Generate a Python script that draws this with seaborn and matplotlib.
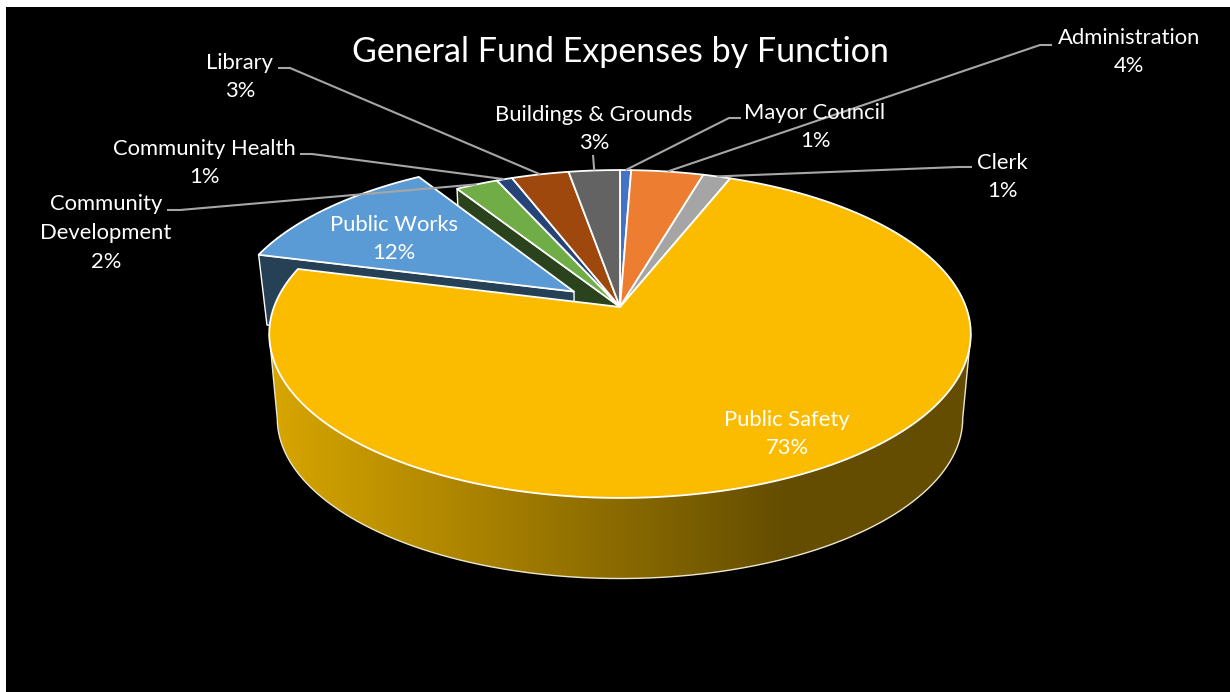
import numpy as np
import matplotlib
matplotlib.use("Agg")
import matplotlib.pyplot as plt
from matplotlib.patches import Polygon
import seaborn as sns

# Budget shares, clockwise from twelve o'clock
categories = ["Mayor Council", "Administration", "Clerk", "Public Safety", "Public Works",
              "Community\nDevelopment", "Community Health", "Library", "Buildings & Grounds"]
shares = [0.6, 3.9, 1.49, 73.0, 12.0, 2.3, 0.85, 3.1, 2.76]
slice_colors = ["#4472C4", "#ED7D31", "#A5A5A5", "#FBBC00", "#5B9BD5",
                "#70AD47", "#264478", "#9E480E", "#636363"]
title_text = "General Fund Expenses by Function"

# Label centres, leader elbows (label end, elbow) in pixel-scaled axes units
label_xy = [(815, 127), (1129, 52), (1002, 177), (787, 434), (394, 239),
            (106, 233), (204, 163), (240, 77), (594, 129)]
leader_start = [(741, 118), (1052, 45), (972, 167), None, None,
                (167, 210), (300, 154), (278, 68), (593, 155)]
leader_elbow = [(729, 118), (1040, 45), (958, 167), None, None,
                (180, 210), (312, 154), (290, 68), None]

# Projection of the tilted disc
CX, CY = 620.0, 307.0
RAD_X, RAD_Y = 346.0, 159.5
PERSP = 0.1646
FLOOR_SCALE, FLOOR_DROP = 0.977, 85.0
BACK_DROP = 69.0
EXPLODE = 0.167
EXPLODED = "Public Works"


def project(u, v, drop=None):
    u, v = np.asarray(u, float), np.asarray(v, float)
    w = 1 + PERSP * v
    x, y = RAD_X * u / w, -RAD_Y * v / w
    if drop is not None:
        x, y = x * FLOOR_SCALE, y * FLOOR_SCALE + drop
    return np.column_stack([CX + x, CY + y])


def arc(a0, a1, shift=(0.0, 0.0), drop=None, n=200):
    t = np.linspace(a0, a1, n)
    return project(shift[0] + np.sin(t), shift[1] + np.cos(t), drop)


sns.set_theme(style="dark")
plt.rcParams["font.family"] = ["Lato", "DejaVu Sans"]

fig = plt.figure(figsize=(12.3, 6.92), dpi=100, facecolor="white")
ax = fig.add_axes([6 / 1230, 0, 1224 / 1230, 685 / 692], facecolor="black")
ax.set_axis_off()
ax.add_patch(plt.Rectangle((6, 7), 1224, 685, color="black", zorder=0))

fractions = np.array(shares) / np.sum(shares)
edges = np.concatenate([[0], np.cumsum(fractions)]) * 2 * np.pi
palette = sns.color_palette(slice_colors)
index = {c: i for i, c in enumerate(categories)}
mids = (edges[:-1] + edges[1:]) / 2

ex = index[EXPLODED]
shift = (EXPLODE * np.sin(mids[ex]), EXPLODE * np.cos(mids[ex]))

# Cut face of the neighbouring slice, exposed by the pulled-out wedge
nb = ex + 1
face = np.vstack([[[CX, CY]], arc(edges[nb], edges[nb], n=1),
                  arc(edges[nb], edges[nb], drop=FLOOR_DROP, n=1), project([0], [0], FLOOR_DROP)])
ax.fill(*face.T, fc="#2A431C", ec="white", lw=1.0, zorder=2)

# Cut face of the pulled-out wedge
a0 = edges[ex]
face = np.vstack([project([shift[0]], [shift[1]]), arc(a0, a0, shift, n=1),
                  arc(a0, a0, shift, BACK_DROP, n=1), project([shift[0]], [shift[1]], BACK_DROP)])
ax.fill(*face.T, fc="#264055", ec="white", lw=1.0, zorder=3)

# Outer wall of the large slice, shaded left to right between its silhouette tangents
tangent = np.arccos(-PERSP)
wall_top = arc(tangent, 2 * np.pi - tangent, n=500)
wall_bot = arc(2 * np.pi - tangent, tangent, drop=FLOOR_DROP, n=500)
wall_shape = Polygon(np.vstack([wall_top, wall_bot]), closed=True, transform=ax.transData, fc="none", ec="none")
ax.add_patch(wall_shape)
wall_cmap = sns.blend_palette(["#D8A600", "#644D00"], as_cmap=True)
ramp = np.clip(np.linspace(0, 1, 512) / 0.74, 0, 1)
shade = ax.imshow(ramp[None, :], cmap=wall_cmap, aspect="auto", vmin=0, vmax=1,
                  extent=(268, 972, 600, 300), zorder=4, interpolation="bilinear")
shade.set_clip_path(wall_shape)
ax.plot(*np.vstack([wall_top[-1], wall_bot, wall_top[0]]).T, color="#EDE6CF", lw=1.0, zorder=4.5)

# Upper faces of all slices
for i, color in enumerate(palette):
    off = shift if i == ex else (0.0, 0.0)
    poly = np.vstack([project([off[0]], [off[1]]), arc(edges[i], edges[i + 1], off)])
    ax.fill(*poly.T, fc=color, ec="white", lw=1.3, joinstyle="round", zorder=6 if i != ex else 3.5)

# Leader lines run from each outside label to its slice's rim
for i in range(len(categories)):
    if leader_start[i] is None:
        continue
    rim = arc(mids[i], mids[i], n=1)[0]
    pts = [leader_start[i]] + ([leader_elbow[i]] if leader_elbow[i] else []) + [tuple(rim)]
    ax.plot(*np.array(pts).T, color="#A6A6A6", lw=1.5, zorder=7, solid_capstyle="butt")

# Name and rounded percentage of each slice
for i, name in enumerate(categories):
    ax.text(*label_xy[i], f"{name}\n{fractions[i] * 100:.0f}%", color="white", fontsize=15.85,
            ha="center", va="center", linespacing=1.55, zorder=8)

ax.text(620, 52, title_text, color="white", fontsize=24.5, ha="center", va="center", zorder=8)

ax.set_xlim(6, 1230)
ax.set_ylim(692, 7)
fig.savefig("out.png", dpi=100, facecolor=fig.get_facecolor())
